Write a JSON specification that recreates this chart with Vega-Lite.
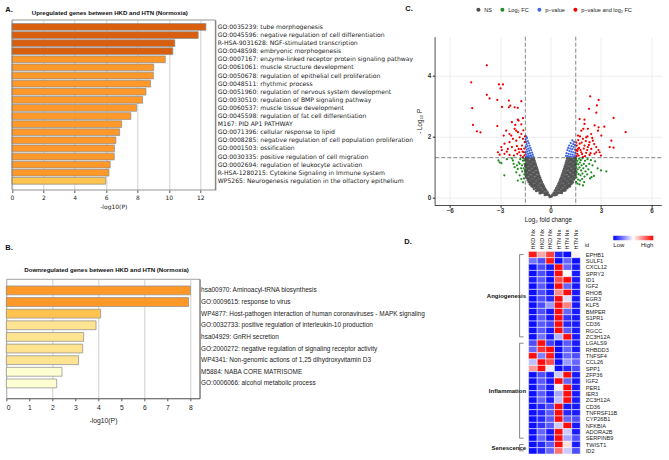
{
"$schema":"https://vega.github.io/schema/vega-lite/v6.json",
"background":"white",
"padding":{"left":4.3,"top":5,"right":0,"bottom":0},
"config":{"view":{"stroke":null},"font":"Liberation Sans","title":{"fontSize":7.5,"fontWeight":"bold","color":"#111"}},
"datasets":{
"ns":[{"fc":-0.04,"p":0.02},{"fc":-0.1,"p":0.07},{"fc":-0.22,"p":0.09},{"fc":-0.33,"p":0.08},{"fc":-0.18,"p":0.16},{"fc":-0.3,"p":0.14},{"fc":-0.43,"p":0.16},{"fc":-0.56,"p":0.15},{"fc":-0.64,"p":0.14},{"fc":-0.27,"p":0.22},{"fc":-0.39,"p":0.23},{"fc":-0.52,"p":0.21},{"fc":-0.65,"p":0.22},{"fc":-0.77,"p":0.23},{"fc":-0.85,"p":0.21},{"fc":-0.34,"p":0.29},{"fc":-0.46,"p":0.3},{"fc":-0.59,"p":0.28},{"fc":-0.72,"p":0.29},{"fc":-0.85,"p":0.3},{"fc":-0.98,"p":0.28},{"fc":-0.41,"p":0.36},{"fc":-0.53,"p":0.37},{"fc":-0.66,"p":0.35},{"fc":-0.79,"p":0.36},{"fc":-0.92,"p":0.37},{"fc":-1.05,"p":0.35},{"fc":-1.12,"p":0.37},{"fc":-0.47,"p":0.43},{"fc":-0.6,"p":0.42},{"fc":-0.73,"p":0.44},{"fc":-0.86,"p":0.43},{"fc":-0.99,"p":0.42},{"fc":-1.12,"p":0.44},{"fc":-1.21,"p":0.43},{"fc":-0.53,"p":0.5},{"fc":-0.66,"p":0.51},{"fc":-0.79,"p":0.49},{"fc":-0.92,"p":0.5},{"fc":-1.05,"p":0.51},{"fc":-1.18,"p":0.49},{"fc":-1.29,"p":0.5},{"fc":-0.58,"p":0.57},{"fc":-0.71,"p":0.56},{"fc":-0.84,"p":0.58},{"fc":-0.97,"p":0.57},{"fc":-1.1,"p":0.56},{"fc":-1.23,"p":0.58},{"fc":-1.35,"p":0.57},{"fc":-0.63,"p":0.64},{"fc":-0.76,"p":0.65},{"fc":-0.89,"p":0.63},{"fc":-1.02,"p":0.64},{"fc":-1.15,"p":0.65},{"fc":-1.28,"p":0.63},{"fc":-1.41,"p":0.64},{"fc":-0.68,"p":0.71},{"fc":-0.81,"p":0.7},{"fc":-0.94,"p":0.72},{"fc":-1.07,"p":0.71},{"fc":-1.2,"p":0.7},{"fc":-1.33,"p":0.72},{"fc":-1.45,"p":0.71},{"fc":-0.72,"p":0.78},{"fc":-0.85,"p":0.79},{"fc":-0.98,"p":0.77},{"fc":-1.11,"p":0.78},{"fc":-1.24,"p":0.79},{"fc":-1.37,"p":0.77},{"fc":-1.48,"p":0.78},{"fc":-0.76,"p":0.85},{"fc":-0.89,"p":0.84},{"fc":-1.02,"p":0.86},{"fc":-1.15,"p":0.85},{"fc":-1.28,"p":0.84},{"fc":-1.41,"p":0.86},{"fc":-1.49,"p":0.85},{"fc":-0.8,"p":0.92},{"fc":-0.93,"p":0.93},{"fc":-1.06,"p":0.91},{"fc":-1.19,"p":0.92},{"fc":-1.32,"p":0.93},{"fc":-1.45,"p":0.91},{"fc":-0.84,"p":0.99},{"fc":-0.97,"p":0.98},{"fc":-1.1,"p":1.0},{"fc":-1.23,"p":0.99},{"fc":-1.36,"p":0.98},{"fc":-1.48,"p":1.0},{"fc":-0.88,"p":1.06},{"fc":-1.01,"p":1.07},{"fc":-1.14,"p":1.05},{"fc":-1.27,"p":1.06},{"fc":-1.4,"p":1.07},{"fc":-1.49,"p":1.05},{"fc":-0.92,"p":1.13},{"fc":-1.05,"p":1.12},{"fc":-1.18,"p":1.14},{"fc":-1.31,"p":1.13},{"fc":-1.44,"p":1.12},{"fc":-0.96,"p":1.2},{"fc":-1.09,"p":1.21},{"fc":-1.22,"p":1.19},{"fc":-1.35,"p":1.2},{"fc":-1.47,"p":1.21},{"fc":-1.0,"p":1.27},{"fc":-1.13,"p":1.26},{"fc":-1.26,"p":1.28},{"fc":-1.39,"p":1.27},{"fc":-1.49,"p":1.26},
{"fc":0.05,"p":0.03},{"fc":0.12,"p":0.08},{"fc":0.24,"p":0.07},{"fc":0.35,"p":0.09},{"fc":0.2,"p":0.15},{"fc":0.32,"p":0.16},{"fc":0.45,"p":0.14},{"fc":0.57,"p":0.16},{"fc":0.66,"p":0.15},{"fc":0.28,"p":0.23},{"fc":0.41,"p":0.22},{"fc":0.54,"p":0.23},{"fc":0.67,"p":0.21},{"fc":0.79,"p":0.22},{"fc":0.87,"p":0.23},{"fc":0.35,"p":0.3},{"fc":0.48,"p":0.29},{"fc":0.61,"p":0.3},{"fc":0.74,"p":0.28},{"fc":0.87,"p":0.29},{"fc":0.99,"p":0.3},{"fc":0.42,"p":0.37},{"fc":0.55,"p":0.36},{"fc":0.68,"p":0.37},{"fc":0.81,"p":0.35},{"fc":0.94,"p":0.36},{"fc":1.06,"p":0.37},{"fc":1.14,"p":0.36},{"fc":0.48,"p":0.44},{"fc":0.61,"p":0.43},{"fc":0.74,"p":0.42},{"fc":0.87,"p":0.44},{"fc":1.0,"p":0.43},{"fc":1.13,"p":0.42},{"fc":1.23,"p":0.44},{"fc":0.54,"p":0.51},{"fc":0.67,"p":0.5},{"fc":0.8,"p":0.51},{"fc":0.93,"p":0.49},{"fc":1.06,"p":0.5},{"fc":1.19,"p":0.51},{"fc":1.31,"p":0.49},{"fc":0.59,"p":0.58},{"fc":0.72,"p":0.57},{"fc":0.85,"p":0.56},{"fc":0.98,"p":0.58},{"fc":1.11,"p":0.57},{"fc":1.24,"p":0.56},{"fc":1.37,"p":0.58},{"fc":0.64,"p":0.65},{"fc":0.77,"p":0.64},{"fc":0.9,"p":0.65},{"fc":1.03,"p":0.63},{"fc":1.16,"p":0.64},{"fc":1.29,"p":0.65},{"fc":1.42,"p":0.63},{"fc":0.69,"p":0.72},{"fc":0.82,"p":0.71},{"fc":0.95,"p":0.7},{"fc":1.08,"p":0.72},{"fc":1.21,"p":0.71},{"fc":1.34,"p":0.7},{"fc":1.46,"p":0.72},{"fc":0.73,"p":0.79},{"fc":0.86,"p":0.78},{"fc":0.99,"p":0.79},{"fc":1.12,"p":0.77},{"fc":1.25,"p":0.78},{"fc":1.38,"p":0.79},{"fc":1.48,"p":0.77},{"fc":0.77,"p":0.86},{"fc":0.9,"p":0.85},{"fc":1.03,"p":0.84},{"fc":1.16,"p":0.86},{"fc":1.29,"p":0.85},{"fc":1.42,"p":0.84},{"fc":1.49,"p":0.86},{"fc":0.81,"p":0.93},{"fc":0.94,"p":0.92},{"fc":1.07,"p":0.93},{"fc":1.2,"p":0.91},{"fc":1.33,"p":0.92},{"fc":1.46,"p":0.93},{"fc":0.85,"p":1.0},{"fc":0.98,"p":0.99},{"fc":1.11,"p":0.98},{"fc":1.24,"p":1.0},{"fc":1.37,"p":0.99},{"fc":1.49,"p":0.98},{"fc":0.89,"p":1.07},{"fc":1.02,"p":1.06},{"fc":1.15,"p":1.07},{"fc":1.28,"p":1.05},{"fc":1.41,"p":1.06},{"fc":1.49,"p":1.08},{"fc":0.93,"p":1.14},{"fc":1.06,"p":1.13},{"fc":1.19,"p":1.12},{"fc":1.32,"p":1.14},{"fc":1.45,"p":1.13},{"fc":0.97,"p":1.21},{"fc":1.1,"p":1.2},{"fc":1.23,"p":1.21},{"fc":1.36,"p":1.19},{"fc":1.48,"p":1.2},{"fc":1.0,"p":1.28},{"fc":1.13,"p":1.27},{"fc":1.26,"p":1.26},{"fc":1.39,"p":1.28},{"fc":1.49,"p":1.27}],
"lfc":[{"fc":-3.03,"p":1.15},{"fc":-2.93,"p":1.12},{"fc":-3.1,"p":1.21},{"fc":-2.75,"p":0.72},{"fc":-2.24,"p":1.21},{"fc":-2.14,"p":0.99},{"fc":-1.95,"p":0.93},{"fc":-1.84,"p":1.1},{"fc":-1.74,"p":0.6},{"fc":-1.64,"p":1.2},{"fc":-2.04,"p":0.82},{"fc":-1.64,"p":0.49},{"fc":-1.56,"p":0.75},{"fc":-1.6,"p":0.95},{"fc":-1.7,"p":1.05},{"fc":-1.8,"p":1.25},{"fc":-1.9,"p":1.15},{"fc":-2.0,"p":1.05},{"fc":-1.55,"p":1.1},{"fc":-1.58,"p":0.62},{"fc":-1.68,"p":0.85},{"fc":-2.3,"p":1.28},{"fc":-1.52,"p":0.9},{"fc":-1.62,"p":1.28},{"fc":-1.75,"p":0.95},{"fc":-2.6,"p":1.25},{"fc":-2.2,"p":1.1},{"fc":-1.84,"p":0.72},{"fc":-1.54,"p":1.22},{"fc":-1.95,"p":0.55},
{"fc":1.52,"p":1.25},{"fc":1.6,"p":1.2},{"fc":1.7,"p":1.27},{"fc":1.8,"p":1.22},{"fc":1.9,"p":1.28},{"fc":2.05,"p":1.2},{"fc":2.2,"p":1.25},{"fc":2.4,"p":1.22},{"fc":1.55,"p":1.12},{"fc":1.65,"p":1.08},{"fc":1.75,"p":1.14},{"fc":1.85,"p":1.05},{"fc":1.98,"p":1.1},{"fc":2.12,"p":1.02},{"fc":2.3,"p":1.1},{"fc":2.5,"p":1.05},{"fc":2.65,"p":1.18},{"fc":1.53,"p":0.98},{"fc":1.62,"p":0.92},{"fc":1.72,"p":0.98},{"fc":1.82,"p":0.88},{"fc":1.95,"p":0.95},{"fc":2.08,"p":0.85},{"fc":2.25,"p":0.92},{"fc":2.42,"p":0.82},{"fc":1.56,"p":0.82},{"fc":1.66,"p":0.76},{"fc":1.78,"p":0.72},{"fc":1.9,"p":0.78},{"fc":2.02,"p":0.68},{"fc":2.18,"p":0.75},{"fc":2.35,"p":0.62},{"fc":1.54,"p":0.65},{"fc":1.64,"p":0.58},{"fc":1.76,"p":0.55},{"fc":1.88,"p":0.6},{"fc":1.6,"p":0.45},{"fc":1.72,"p":0.42},{"fc":1.93,"p":0.39},{"fc":2.44,"p":0.66},{"fc":3.0,"p":0.88},{"fc":3.32,"p":0.85},{"fc":2.8,"p":0.95},{"fc":2.58,"p":0.7},{"fc":1.52,"p":0.5},{"fc":2.0,"p":0.5}],
"pv":[{"fc":-1.45,"p":2.0},{"fc":-1.4,"p":1.95},{"fc":-1.48,"p":1.9},{"fc":-1.35,"p":1.85},{"fc":-1.45,"p":1.82},{"fc":-1.3,"p":1.78},{"fc":-1.42,"p":1.75},{"fc":-1.25,"p":1.7},{"fc":-1.38,"p":1.68},{"fc":-1.47,"p":1.65},{"fc":-1.2,"p":1.62},{"fc":-1.32,"p":1.6},{"fc":-1.42,"p":1.57},{"fc":-1.15,"p":1.55},{"fc":-1.27,"p":1.53},{"fc":-1.38,"p":1.5},{"fc":-1.48,"p":1.48},{"fc":-1.1,"p":1.47},{"fc":-1.22,"p":1.45},{"fc":-1.33,"p":1.43},{"fc":-1.44,"p":1.41},{"fc":-1.06,"p":1.4},{"fc":-1.17,"p":1.38},{"fc":-1.28,"p":1.36},{"fc":-1.4,"p":1.35},{"fc":-1.02,"p":1.34},{"fc":-1.13,"p":1.33},{"fc":-1.25,"p":1.32},{"fc":-1.36,"p":1.32},{"fc":-1.47,"p":1.33},
{"fc":1.3,"p":1.87},{"fc":1.4,"p":1.82},{"fc":1.2,"p":1.78},{"fc":1.35,"p":1.75},{"fc":1.45,"p":1.72},{"fc":1.1,"p":1.7},{"fc":1.25,"p":1.68},{"fc":1.38,"p":1.65},{"fc":1.05,"p":1.62},{"fc":1.18,"p":1.6},{"fc":1.3,"p":1.58},{"fc":1.45,"p":1.57},{"fc":1.0,"p":1.55},{"fc":1.12,"p":1.52},{"fc":1.24,"p":1.5},{"fc":1.36,"p":1.48},{"fc":1.47,"p":1.46},{"fc":0.95,"p":1.45},{"fc":1.07,"p":1.43},{"fc":1.19,"p":1.41},{"fc":1.31,"p":1.4},{"fc":1.43,"p":1.38},{"fc":0.92,"p":1.36},{"fc":1.03,"p":1.35},{"fc":1.15,"p":1.34},{"fc":1.27,"p":1.33},{"fc":1.39,"p":1.32},{"fc":1.49,"p":1.34}],
"both":[{"fc":-3.79,"p":4.34},{"fc":-4.72,"p":3.78},{"fc":-3.07,"p":3.71},{"fc":-2.83,"p":3.71},{"fc":-2.98,"p":3.58},{"fc":-3.79,"p":3.37},{"fc":-3.63,"p":3.25},{"fc":-3.17,"p":3.2},{"fc":-2.48,"p":3.18},{"fc":-1.74,"p":3.16},{"fc":-4.66,"p":2.93},{"fc":-2.89,"p":2.97},{"fc":-2.48,"p":2.96},{"fc":-2.4,"p":3.01},{"fc":-2.14,"p":2.96},{"fc":-1.95,"p":2.94},{"fc":-1.64,"p":2.6},{"fc":-1.95,"p":2.55},{"fc":-4.62,"p":2.38},{"fc":-4.38,"p":2.17},{"fc":-4.17,"p":2.13},{"fc":-3.17,"p":2.34},{"fc":-2.3,"p":2.47},{"fc":-2.1,"p":2.38},{"fc":-1.9,"p":2.52},{"fc":-1.74,"p":2.4},{"fc":-2.64,"p":2.19},{"fc":-2.14,"p":2.25},{"fc":-1.94,"p":2.14},{"fc":-1.74,"p":2.08},{"fc":-2.34,"p":2.03},{"fc":-2.93,"p":1.65},{"fc":-2.74,"p":1.76},{"fc":-2.44,"p":1.81},{"fc":-2.24,"p":1.92},{"fc":-2.04,"p":1.86},{"fc":-1.84,"p":1.97},{"fc":-1.64,"p":1.92},{"fc":-2.54,"p":1.59},{"fc":-2.3,"p":1.65},{"fc":-2.1,"p":1.54},{"fc":-1.9,"p":1.59},{"fc":-1.7,"p":1.7},{"fc":-1.54,"p":1.81},{"fc":-2.74,"p":1.43},{"fc":-2.44,"p":1.39},{"fc":-2.18,"p":1.37},{"fc":-1.98,"p":1.43},{"fc":-1.78,"p":1.37},{"fc":-1.58,"p":1.48},{"fc":-3.13,"p":1.48},{"fc":-1.64,"p":1.32},{"fc":-2.79,"p":2.03},{"fc":-2.44,"p":2.08},{"fc":-2.04,"p":2.19},{"fc":-1.62,"p":2.2},{"fc":-1.56,"p":1.6},{"fc":-1.66,"p":1.5},{"fc":-1.86,"p":1.48},{"fc":-2.0,"p":1.68},{"fc":-1.55,"p":1.38},{"fc":-1.75,"p":1.58},{"fc":-1.52,"p":2.0},{"fc":-2.6,"p":1.5},{"fc":-3.03,"p":1.4},{"fc":-2.9,"p":1.55},
{"fc":2.36,"p":3.32},{"fc":2.86,"p":3.2},{"fc":2.76,"p":3.02},{"fc":2.29,"p":2.91},{"fc":2.72,"p":2.78},{"fc":3.75,"p":2.61},{"fc":1.73,"p":2.57},{"fc":2.02,"p":2.55},{"fc":2.86,"p":2.3},{"fc":3.2,"p":2.32},{"fc":4.47,"p":2.14},{"fc":3.62,"p":1.86},{"fc":3.52,"p":1.65},{"fc":3.75,"p":1.63},{"fc":3.0,"p":1.37},{"fc":2.72,"p":1.48},{"fc":2.02,"p":2.41},{"fc":1.83,"p":2.19},{"fc":2.22,"p":2.25},{"fc":2.42,"p":2.08},{"fc":2.62,"p":2.36},{"fc":2.82,"p":2.19},{"fc":3.02,"p":2.03},{"fc":1.63,"p":2.03},{"fc":1.93,"p":1.92},{"fc":2.12,"p":1.97},{"fc":2.32,"p":1.81},{"fc":2.52,"p":1.86},{"fc":1.73,"p":1.76},{"fc":2.02,"p":1.7},{"fc":2.22,"p":1.65},{"fc":2.42,"p":1.59},{"fc":2.72,"p":1.65},{"fc":2.92,"p":1.48},{"fc":1.63,"p":1.59},{"fc":1.83,"p":1.48},{"fc":2.12,"p":1.46},{"fc":2.32,"p":1.39},{"fc":2.62,"p":1.43},{"fc":1.67,"p":1.37},{"fc":1.93,"p":1.32},{"fc":1.59,"p":1.43},{"fc":1.55,"p":1.35},{"fc":1.6,"p":1.52},{"fc":1.7,"p":1.62},{"fc":1.78,"p":1.55},{"fc":1.88,"p":1.42},{"fc":1.98,"p":1.6},{"fc":2.05,"p":1.35},{"fc":2.18,"p":1.55},{"fc":2.28,"p":1.72},{"fc":2.38,"p":1.45},{"fc":1.56,"p":1.7},{"fc":1.65,"p":1.88},{"fc":1.75,"p":2.0},{"fc":1.85,"p":1.8},{"fc":1.95,"p":2.25},{"fc":2.1,"p":1.85},{"fc":2.2,"p":2.0},{"fc":2.48,"p":1.95},{"fc":2.6,"p":1.75},{"fc":2.85,"p":1.55},{"fc":1.52,"p":1.55},{"fc":1.53,"p":1.8}]
},
"spacing":-21.7,
"resolve":{"scale":{"color":"independent"},"legend":{"color":"independent"}},
"hconcat":[
{"vconcat":[
 {"width":209,"height":170,
  "title":{"text":"A.","anchor":"start","frame":"group","dx":-1,"offset":-4.8},
  "data":{"values":[
   {"term":"GO:0035239: tube morphogenesis","v":12.36},
   {"term":"GO:0045596: negative regulation of cell differentiation","v":11.87},
   {"term":"R-HSA-9031628: NGF-stimulated transcription","v":10.38},
   {"term":"GO:0048598: embryonic morphogenesis","v":10.25},
   {"term":"GO:0007167: enzyme-linked receptor protein signaling pathway","v":9.77},
   {"term":"GO:0061061: muscle structure development","v":9.03},
   {"term":"GO:0050678: regulation of epithelial cell proliferation","v":9.01},
   {"term":"GO:0048511: rhythmic process","v":8.83},
   {"term":"GO:0051960: regulation of nervous system development","v":8.54},
   {"term":"GO:0030510: regulation of BMP signaling pathway","v":8.32},
   {"term":"GO:0060537: muscle tissue development","v":7.94},
   {"term":"GO:0045598: regulation of fat cell differentiation","v":7.58},
   {"term":"M167: PID AP1 PATHWAY","v":6.99},
   {"term":"GO:0071396: cellular response to lipid","v":6.86},
   {"term":"GO:0008285: negative regulation of cell population proliferation","v":6.62},
   {"term":"GO:0001503: ossification","v":6.53},
   {"term":"GO:0030335: positive regulation of cell migration","v":6.52},
   {"term":"GO:0002694: regulation of leukocyte activation","v":6.26},
   {"term":"R-HSA-1280215: Cytokine Signaling in Immune system","v":6.18},
   {"term":"WP5265: Neurogenesis regulation in the olfactory epithelium","v":5.97}]},
  "layer":[
   {"mark":{"type":"bar","stroke":"#8a8a8a","strokeWidth":0.7},
    "encoding":{
     "y":{"field":"term","type":"nominal","sort":null,"scale":{"paddingInner":0.17,"paddingOuter":0.58,"align":0.38},
          "axis":{"orient":"right","title":null,"ticks":false,"domainColor":"#555","domainWidth":0.8,"labelFont":"DejaVu Sans","labelFontSize":6.1,"labelPadding":2,"labelLimit":400,"labelColor":"#222"}},
     "x":{"field":"v","type":"quantitative","scale":{"domain":[-0.3614,12.96],"nice":false,"zero":false},
          "axis":{"values":[0,2,4,6,8,10,12],"title":"-log10(P)","titleX":107,"grid":true,"gridColor":"#c4c4c4","gridWidth":0.8,"domain":false,"tickColor":"#555","tickSize":2.5,"labelFont":"DejaVu Sans","labelFontSize":6,"labelPadding":2,"labelColor":"#222","titleFont":"DejaVu Sans","titleFontSize":6,"titleFontWeight":"normal","titlePadding":3,"titleColor":"#222"}},
     "color":{"field":"v","type":"quantitative","scale":{"type":"threshold","domain":[3,4,6,10],"range":["#ffffd4","#fee391","#fec44f","#fe9929","#d95f0e"]},"legend":null}}},
   {"mark":{"type":"rule","opacity":0},
    "encoding":{
     "x":{"field":"v","type":"quantitative","axis":{"orient":"top","title":"Upregulated genes between HKD and HTN (Normoxia)","titleX":103,"labels":false,"ticks":false,"domain":false,"grid":false,"titleFont":"Liberation Sans","titleFontWeight":"bold","titleFontSize":6.1,"titlePadding":5,"titleColor":"#111"}}}},
   {"data":{"values":[{}]},"mark":{"type":"rect","filled":false,"color":"#7a7a7a","strokeWidth":0.8},
    "encoding":{"x":{"datum":0,"type":"quantitative","axis":null},"x2":{"datum":12.96}}}
  ],
  "resolve":{"axis":{"x":"independent"}}},
 {"width":193.3,"height":119.3,
  "title":{"text":"B.","anchor":"start","frame":"group","dx":-1,"offset":15},
  "view":{"stroke":"#8c8c8c","strokeWidth":0.8},
  "data":{"values":[
   {"term":"hsa00970: Aminoacyl-tRNA biosynthesis","v":8.0},
   {"term":"GO:0009615: response to virus","v":7.92},
   {"term":"WP4877: Host-pathogen interaction of human coronaviruses - MAPK signaling","v":4.1},
   {"term":"GO:0032733: positive regulation of interleukin-10 production","v":3.9},
   {"term":"hsa04929: GnRH secretion","v":3.36},
   {"term":"GO:2000272: negative regulation of signaling receptor activity","v":3.32},
   {"term":"WP4341: Non-genomic actions of 1,25 dihydroxyvitamin D3","v":3.14},
   {"term":"M5884: NABA CORE MATRISOME","v":2.42},
   {"term":"GO:0006066: alcohol metabolic process","v":2.19}]},
  "layer":[
   {"mark":{"type":"bar","stroke":"#8a8a8a","strokeWidth":0.7},
    "encoding":{
     "y":{"field":"term","type":"nominal","sort":null,"scale":{"paddingInner":0.24,"paddingOuter":0.75,"align":0.4},
          "axis":{"orient":"right","title":null,"ticks":false,"domainColor":"#555","domainWidth":0.8,"labelFont":"Liberation Sans","labelFontSize":6.45,"labelPadding":1,"labelLimit":400,"labelColor":"#222"}},
     "x":{"field":"v","type":"quantitative","scale":{"domain":[0,8.4],"nice":false},
          "axis":{"values":[0,1,2,3,4,5,6,7,8],"title":"-log10(P)","grid":true,"gridColor":"#c4c4c4","gridWidth":0.8,"gridOpacity":{"condition":{"test":"datum.value % 2 != 0","value":0},"value":1},"domainColor":"#555","domainWidth":0.8,"tickColor":"#555","tickSize":2.5,"labelFont":"Liberation Sans","labelFontSize":6.8,"labelPadding":3.5,"labelColor":"#222","titleFont":"Liberation Sans","titleFontSize":6.8,"titleFontWeight":"normal","titlePadding":6,"titleColor":"#222"}},
     "color":{"field":"v","type":"quantitative","scale":{"type":"threshold","domain":[3,4,6,10],"range":["#ffffd4","#fee391","#fec44f","#fe9929","#d95f0e"]},"legend":null}}},
   {"mark":{"type":"rule","opacity":0},
    "encoding":{
     "x":{"field":"v","type":"quantitative","axis":{"orient":"top","title":"Downregulated genes between HKD and HTN (Normoxia)","titleX":99.8,"labels":false,"ticks":false,"domain":false,"grid":false,"titleFont":"Liberation Sans","titleFontWeight":"bold","titleFontSize":6.1,"titlePadding":6.7,"titleColor":"#111"}}}}
  ],
  "resolve":{"axis":{"x":"independent"}}}
 ],"spacing":89,"bounds":"flush"},
{"vconcat":[
 {"width":226.7,"height":1,"data":{"values":[]},"mark":"point"},
 {"vconcat":[
  {"width":226.7,"height":168.3,
   "title":{"text":"C.","anchor":"start","frame":"group","dx":-29.3,"offset":-6},
   "layer":[
    {"data":{"name":"ns"},"mark":{"type":"point","filled":true,"size":9,"opacity":0.9},
     "encoding":{
      "x":{"field":"fc","type":"quantitative","scale":{"domain":[-6.9,6.59],"nice":false,"zero":false},
           "axis":{"values":[-6,-4.5,-3,-1.5,0,1.5,3,4.5,6],"labelExpr":"datum.value % 3 == 0 ? datum.label : ''","tickOpacity":{"condition":{"test":"datum.value % 3 != 0","value":0},"value":1},"title":"Log₂ fold change","grid":true,"gridColor":"#e3e3e3","gridWidth":0.6,"domainColor":"#222","domainWidth":0.8,"tickColor":"#222","tickSize":2.3,"labelFontSize":6.3,"labelFontWeight":"bold","labelColor":"#333","labelPadding":0.5,"titleFontSize":6.3,"titleFontWeight":"normal","titlePadding":2,"titleColor":"#111"}},
      "y":{"field":"p","type":"quantitative","scale":{"domain":[-0.255,5.28],"nice":false,"zero":false},
           "axis":{"values":[0,0.5,1,1.5,2,2.5,3,3.5,4,4.5,5],"labelExpr":"datum.value % 1 == 0 ? datum.label : ''","tickOpacity":{"condition":{"test":"datum.value % 1 != 0","value":0},"value":1},"title":"- Log₁₀ P","grid":true,"gridColor":"#e3e3e3","gridWidth":0.6,"domainColor":"#222","domainWidth":0.8,"tickColor":"#222","tickSize":2.3,"labelFontSize":6.3,"labelFontWeight":"bold","labelColor":"#333","labelPadding":1.5,"titleFontSize":6.3,"titleFontWeight":"normal","titlePadding":5,"titleColor":"#111"}},
      "color":{"datum":"NS","type":"nominal","scale":{"domain":["NS","Log₂ FC","p−value","p−value and log₂ FC"],"range":["#4d4d4d","#228b22","#4169e1","#ee0000"]},
               "legend":{"orient":"none","legendX":41,"legendY":-30,"direction":"horizontal","title":null,"symbolType":"circle","symbolSize":16,"symbolStrokeWidth":0,"symbolOpacity":1,"labelFontSize":5.6,"labelOffset":3,"columnPadding":7,"padding":0,"labelColor":"#222"}}}},
    {"data":{"name":"lfc"},"mark":{"type":"point","filled":true,"size":5,"opacity":1},
     "encoding":{"x":{"field":"fc","type":"quantitative"},"y":{"field":"p","type":"quantitative"},"color":{"datum":"Log₂ FC","type":"nominal"}}},
    {"data":{"name":"pv"},"mark":{"type":"point","filled":true,"size":5,"opacity":1},
     "encoding":{"x":{"field":"fc","type":"quantitative"},"y":{"field":"p","type":"quantitative"},"color":{"datum":"p−value","type":"nominal"}}},
    {"data":{"name":"both"},"mark":{"type":"point","filled":true,"size":5,"opacity":1},
     "encoding":{"x":{"field":"fc","type":"quantitative"},"y":{"field":"p","type":"quantitative"},"color":{"datum":"p−value and log₂ FC","type":"nominal"}}},
    {"data":{"values":[{"fc":-1.5},{"fc":1.5}]},"mark":{"type":"rule","color":"#333","strokeWidth":0.6,"strokeDash":[4,2]},
     "encoding":{"x":{"field":"fc","type":"quantitative"}}},
    {"data":{"values":[{"p":1.301}]},"mark":{"type":"rule","color":"#333","strokeWidth":0.6,"strokeDash":[4,2]},
     "encoding":{"y":{"field":"p","type":"quantitative"}}}
   ]},
  {"hconcat":[
   {"width":92,"height":202.6,
    "title":{"text":"D.","anchor":"start","frame":"group","dx":-30.3,"offset":5.4},
    "data":{"values":[{"grp":"Angiogenesis","first":1,"last":14,"mid":7.5},{"grp":"Inflammation","first":15,"last":30,"mid":22.5},{"grp":"Senescence","first":31,"last":32,"mid":31.5}]},
    "layer":[
     {"mark":{"type":"rule","color":"#555","strokeWidth":0.7},
      "encoding":{"x":{"datum":85,"type":"quantitative","scale":{"domain":[0,92],"nice":false,"zero":false},"axis":null},
                  "y":{"field":"first","type":"quantitative","scale":{"domain":[0.5,32.5],"reverse":true,"nice":false,"zero":false},"axis":null},
                  "y2":{"field":"last"}}},
     {"mark":{"type":"rule","color":"#555","strokeWidth":0.7},
      "encoding":{"x":{"datum":85,"type":"quantitative"},"x2":{"datum":89},"y":{"field":"first","type":"quantitative"}}},
     {"mark":{"type":"rule","color":"#555","strokeWidth":0.7},
      "encoding":{"x":{"datum":85,"type":"quantitative"},"x2":{"datum":89},"y":{"field":"last","type":"quantitative"}}},
     {"mark":{"type":"text","align":"right","baseline":"middle","fontWeight":"bold","fontSize":6,"color":"#111"},
      "encoding":{"x":{"datum":91.5,"type":"quantitative"},"y":{"field":"mid","type":"quantitative"},"text":{"field":"grp"}}}
    ]},
   {"width":51.7,"height":202.6,
    "data":{"values":[
     {"g":"01 EPHB1","HKD Nx1":0.9,"HKD Nx2":0.35,"HKD Nx3":0.75,"HTN Nx1":-0.85,"HTN Nx2":-0.95,"HTN Nx3":0.05},
     {"g":"02 SULF1","HKD Nx1":-0.55,"HKD Nx2":-0.7,"HKD Nx3":0.9,"HTN Nx1":-0.95,"HTN Nx2":-0.6,"HTN Nx3":-0.95},
     {"g":"03 CXCL12","HKD Nx1":-0.95,"HKD Nx2":-0.7,"HKD Nx3":-0.9,"HTN Nx1":0.95,"HTN Nx2":-0.6,"HTN Nx3":-0.9},
     {"g":"04 SPRY2","HKD Nx1":-0.95,"HKD Nx2":-0.7,"HKD Nx3":-0.9,"HTN Nx1":0.95,"HTN Nx2":0.02,"HTN Nx3":-0.9},
     {"g":"05 ID1","HKD Nx1":-0.9,"HKD Nx2":-0.65,"HKD Nx3":-0.95,"HTN Nx1":0.7,"HTN Nx2":0.95,"HTN Nx3":-0.9},
     {"g":"06 IGF2","HKD Nx1":-0.95,"HKD Nx2":-0.65,"HKD Nx3":-0.95,"HTN Nx1":0.95,"HTN Nx2":-0.6,"HTN Nx3":-0.9},
     {"g":"07 RHOB","HKD Nx1":-0.95,"HKD Nx2":-0.7,"HKD Nx3":-0.9,"HTN Nx1":0.45,"HTN Nx2":0.95,"HTN Nx3":-0.9},
     {"g":"08 EGR3","HKD Nx1":-0.95,"HKD Nx2":-0.7,"HKD Nx3":-0.85,"HTN Nx1":0.95,"HTN Nx2":-0.12,"HTN Nx3":-0.9},
     {"g":"09 KLF5","HKD Nx1":-0.95,"HKD Nx2":-0.7,"HKD Nx3":-0.4,"HTN Nx1":0.95,"HTN Nx2":0.5,"HTN Nx3":-0.9},
     {"g":"10 BMPER","HKD Nx1":-0.95,"HKD Nx2":-0.7,"HKD Nx3":-0.9,"HTN Nx1":0.95,"HTN Nx2":-0.6,"HTN Nx3":-0.9},
     {"g":"11 S1PR1","HKD Nx1":-0.95,"HKD Nx2":-0.65,"HKD Nx3":-0.9,"HTN Nx1":0.95,"HTN Nx2":-0.8,"HTN Nx3":-0.9},
     {"g":"12 CD36","HKD Nx1":-0.95,"HKD Nx2":-0.65,"HKD Nx3":-0.75,"HTN Nx1":0.95,"HTN Nx2":-0.85,"HTN Nx3":-0.9},
     {"g":"13 RGCC","HKD Nx1":-0.95,"HKD Nx2":-0.65,"HKD Nx3":-0.9,"HTN Nx1":0.95,"HTN Nx2":-0.65,"HTN Nx3":-0.9},
     {"g":"14 ZC3H12A","HKD Nx1":-0.95,"HKD Nx2":-0.55,"HKD Nx3":-0.9,"HTN Nx1":-0.3,"HTN Nx2":0.95,"HTN Nx3":-0.9},
     {"g":"15 LGALS9","HKD Nx1":-0.7,"HKD Nx2":0.95,"HKD Nx3":-0.75,"HTN Nx1":-0.95,"HTN Nx2":-0.65,"HTN Nx3":-0.9},
     {"g":"16 RHBDD3","HKD Nx1":-0.6,"HKD Nx2":0.8,"HKD Nx3":0.95,"HTN Nx1":-0.95,"HTN Nx2":-0.6,"HTN Nx3":-0.9},
     {"g":"17 TNFSF4","HKD Nx1":0.95,"HKD Nx2":-0.5,"HKD Nx3":0.9,"HTN Nx1":-0.95,"HTN Nx2":-0.6,"HTN Nx3":-0.7},
     {"g":"18 CCL26","HKD Nx1":-0.25,"HKD Nx2":0.95,"HKD Nx3":0.7,"HTN Nx1":-0.95,"HTN Nx2":-0.4,"HTN Nx3":-0.6},
     {"g":"19 SPP1","HKD Nx1":0.4,"HKD Nx2":0.95,"HKD Nx3":-0.08,"HTN Nx1":-0.95,"HTN Nx2":-0.85,"HTN Nx3":-0.7},
     {"g":"20 ZFP36","HKD Nx1":-0.95,"HKD Nx2":-0.7,"HKD Nx3":-0.9,"HTN Nx1":-0.2,"HTN Nx2":0.95,"HTN Nx3":-0.9},
     {"g":"21 IGF2","HKD Nx1":-0.95,"HKD Nx2":-0.65,"HKD Nx3":-0.9,"HTN Nx1":0.95,"HTN Nx2":-0.6,"HTN Nx3":-0.9},
     {"g":"22 PER1","HKD Nx1":-0.95,"HKD Nx2":-0.65,"HKD Nx3":-0.9,"HTN Nx1":-0.05,"HTN Nx2":0.95,"HTN Nx3":-0.9},
     {"g":"23 IER3","HKD Nx1":-0.95,"HKD Nx2":-0.65,"HKD Nx3":-0.9,"HTN Nx1":-0.35,"HTN Nx2":0.95,"HTN Nx3":-0.9},
     {"g":"24 ZC3H12A","HKD Nx1":-0.95,"HKD Nx2":-0.6,"HKD Nx3":-0.9,"HTN Nx1":-0.25,"HTN Nx2":0.95,"HTN Nx3":-0.9},
     {"g":"25 CD36","HKD Nx1":-0.95,"HKD Nx2":-0.85,"HKD Nx3":-0.7,"HTN Nx1":0.95,"HTN Nx2":-0.9,"HTN Nx3":-0.9},
     {"g":"26 TNFRSF11B","HKD Nx1":-0.95,"HKD Nx2":-0.85,"HKD Nx3":-0.65,"HTN Nx1":0.95,"HTN Nx2":-0.85,"HTN Nx3":-0.9},
     {"g":"27 CYP26B1","HKD Nx1":-0.95,"HKD Nx2":-0.85,"HKD Nx3":-0.65,"HTN Nx1":0.95,"HTN Nx2":-0.6,"HTN Nx3":-0.7},
     {"g":"28 NFKBIA","HKD Nx1":-0.95,"HKD Nx2":-0.8,"HKD Nx3":-0.65,"HTN Nx1":-0.2,"HTN Nx2":0.95,"HTN Nx3":-0.9},
     {"g":"29 ADORA2B","HKD Nx1":-0.95,"HKD Nx2":-0.6,"HKD Nx3":-0.9,"HTN Nx1":0.95,"HTN Nx2":-0.2,"HTN Nx3":-0.9},
     {"g":"30 SERPINB9","HKD Nx1":-0.95,"HKD Nx2":-0.6,"HKD Nx3":-0.9,"HTN Nx1":0.95,"HTN Nx2":-0.35,"HTN Nx3":-0.7},
     {"g":"31 TWIST1","HKD Nx1":-0.95,"HKD Nx2":-0.85,"HKD Nx3":-0.65,"HTN Nx1":0.95,"HTN Nx2":0.12,"HTN Nx3":-0.9},
     {"g":"32 ID2","HKD Nx1":-0.95,"HKD Nx2":-0.85,"HKD Nx3":-0.6,"HTN Nx1":0.55,"HTN Nx2":-0.2,"HTN Nx3":-0.7}]},
    "transform":[{"fold":["HKD Nx1","HKD Nx2","HKD Nx3","HTN Nx1","HTN Nx2","HTN Nx3"],"as":["s","z"]}],
    "mark":{"type":"rect","stroke":"#ffffff","strokeWidth":0.5},
    "encoding":{
     "x":{"field":"s","type":"nominal","sort":null,"axis":{"orient":"top","title":null,"labelAngle":-90,"labelExpr":"substring(datum.value,0,6)","ticks":false,"domain":false,"labelFontSize":5.6,"labelPadding":2.5,"labelColor":"#222"}},
     "y":{"field":"g","type":"nominal","sort":null,"axis":{"orient":"right","title":"id","titleAngle":0,"titleX":4,"titleY":-4,"titleAlign":"left","titleBaseline":"bottom","titleFontSize":5.6,"titleFontWeight":"normal","titleColor":"#222","labelExpr":"substring(datum.value,3)","ticks":false,"domain":false,"labelFontSize":5.6,"labelPadding":5,"labelColor":"#222","labelLimit":200}},
     "color":{"field":"z","type":"quantitative","scale":{"domain":[-1,0,1],"range":["#0000ff","#ffffff","#ff0000"],"interpolate":"rgb"},
              "legend":{"orient":"none","legendX":84.7,"legendY":-15.7,"direction":"horizontal","title":null,"gradientLength":40,"gradientThickness":4.5,"gradientStrokeWidth":0,"values":[-1,1],"labelExpr":"datum.value < 0 ? 'Low' : 'High'","labelFontSize":6,"labelOffset":2,"labelColor":"#222","padding":0}}}}
  ],"spacing":2,"bounds":"flush","resolve":{"scale":{"color":"independent"}}}
 ],"spacing":45.7,"bounds":"flush","resolve":{"scale":{"color":"independent"},"legend":{"color":"independent"}}}
],"spacing":15.7,"bounds":"flush","resolve":{"scale":{"color":"independent"},"legend":{"color":"independent"}}}
]
}
